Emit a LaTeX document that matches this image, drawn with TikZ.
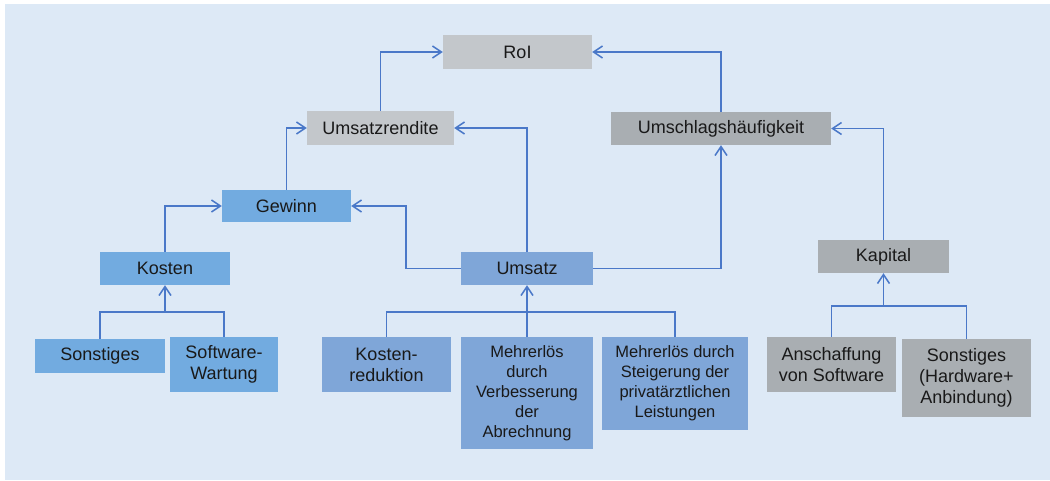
\documentclass[tikz,border=0pt]{standalone}
\usepackage{fontspec}
\setmainfont{Liberation Sans}
\usepackage{tikz}
\usetikzlibrary{arrows.meta,positioning}
\definecolor{bgblue}{HTML}{DDE9F6}
\definecolor{lineblue}{HTML}{4A78C8}
\definecolor{boxblue}{HTML}{72ABE0}
\definecolor{boxmidblue}{HTML}{7FA6D8}
\definecolor{boxlightgray}{HTML}{C3C7CB}
\definecolor{boxgray}{HTML}{A9AEB2}

\begin{document}
\begin{tikzpicture}[
    x=1pt, y=-1pt,
    >={Straight Barb[length=9pt,width=12pt]},
    font=\fontsize{18}{21}\selectfont,
    block/.style={
		rectangle,
		draw=none,
		inner sep=0pt,
		align=center,
		text=black!90
	},
	small/.style={
		font=\fontsize{16.5}{20}\selectfont
	},
	link/.style={
		draw=lineblue,
		line width=1.5pt
	}
  ]
    % background
    \useasboundingbox (0,0) rectangle (1050,480);
    \fill [bgblue] (5,4) rectangle (1050,480);

    % We start by placing the blocks
    \node [block, fill=boxlightgray, minimum width=149pt, minimum height=34pt] (roi) at (517.5,52) {RoI};
    \node [block, fill=boxlightgray, minimum width=147pt, minimum height=34pt] (rendite) at (380.5,128) {Umsatzrendite};
    \node [block, fill=boxgray, minimum width=220pt, minimum height=33pt] (umschlag) at (721,128.5) {Umschlagshäufigkeit};

    \node [block, fill=boxblue, minimum width=129pt, minimum height=32pt] (gewinn) at (286.5,206) {Gewinn};
    \node [block, fill=boxblue, minimum width=130pt, minimum height=33pt] (kosten) at (165,268.5) {Kosten};
    \node [block, fill=boxmidblue, minimum width=132pt, minimum height=33pt] (umsatz) at (527,268.5) {Umsatz};
    \node [block, fill=boxgray, minimum width=131pt, minimum height=33pt] (kapital) at (883.5,256.5) {Kapital};

    \node [block, fill=boxblue, minimum width=130pt, minimum height=34pt] (sonstiges) at (100,356) {Sonstiges};
    \node [block, fill=boxblue, minimum width=108pt, minimum height=55pt] (wartung) at (224,364.5) {Software-\\Wartung};

    \node [block, fill=boxmidblue, minimum width=129pt, minimum height=55pt] (reduktion) at (386.5,364.5) {Kosten-\\reduktion};
    \node [block, small, fill=boxmidblue, minimum width=132pt, minimum height=112pt] (abrechnung) at (527,393) {Mehrerlös\\durch\\Verbesserung\\der\\Abrechnung};
    \node [block, small, fill=boxmidblue, minimum width=146pt, minimum height=93pt] (privat) at (675,383.5) {Mehrerlös durch\\Steigerung der\\privatärztlichen\\Leistungen};

    \node [block, fill=boxgray, minimum width=129pt, minimum height=55pt] (anschaffung) at (831.5,364.5) {Anschaffung\\von Software};
    \node [block, fill=boxgray, minimum width=129pt, minimum height=78pt] (hardware) at (966.5,378) {Sonstiges\\(Hardware+\\Anbindung)};

    % junctions of the trees
    \coordinate (kostenjoin) at (165,312);
    \coordinate (umsatzjoin) at (527,312);
    \coordinate (kapitaljoin) at (883.5,306);

    % upper connectors
    \draw [link,->] (rendite.north) |- (roi.west);
    \draw [link,->] (umschlag.north) |- (roi.east);
    \draw [link,->] (gewinn.north) |- (rendite.west);
    \draw [link,->] (umsatz.north) |- (rendite.east);
    \draw [link,->] (kosten.north) |- (gewinn.west);
    \draw [link,->] (umsatz.west) -- ++(-55,0) |- (gewinn.east);
    \draw [link,->] (umsatz.east) -| (umschlag.south);
    \draw [link,->] (kapital.north) |- (umschlag.east);

    % lower trees
    \draw [link] (sonstiges.north) |- (wartung.north |- kostenjoin) -- (wartung.north);
    \draw [link,->] (kostenjoin) -- (kosten.south);
    \draw [link] (reduktion.north) |- (privat.north |- umsatzjoin) -- (privat.north);
    \draw [link,->] (abrechnung.north) -- (umsatz.south);
    \draw [link] (anschaffung.north) |- (hardware.north |- kapitaljoin) -- (hardware.north);
    \draw [link,->] (kapitaljoin) -- (kapital.south);

\end{tikzpicture}
\end{document}
